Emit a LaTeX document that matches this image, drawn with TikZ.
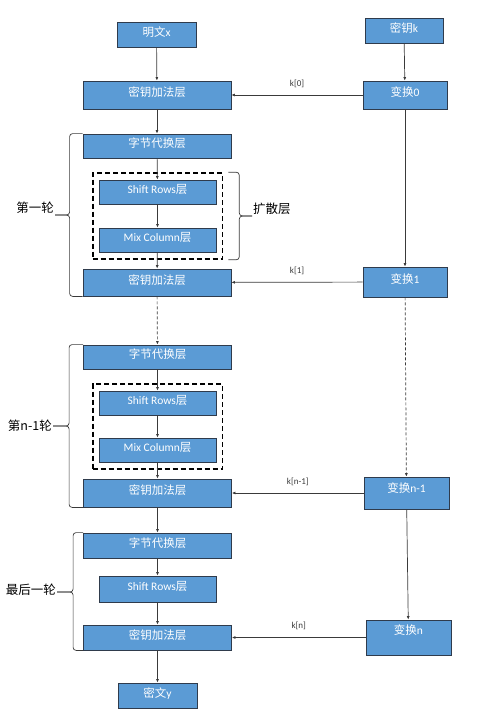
\documentclass[tikz,border=0pt]{standalone}
\usepackage{fontspec}
\setmainfont{Carlito}
\newfontfamily\cjk{Noto Sans CJK SC}
\usetikzlibrary{arrows.meta,fit}
\definecolor{boxblue}{HTML}{5B9BD5}
\definecolor{boxline}{HTML}{2F3B4C}
\definecolor{linegray}{HTML}{3A3A3A}
\tikzset{
    layer/.style={draw=boxline,line width=0.8pt,fill=boxblue,text=white,inner sep=0pt,
        minimum width=148pt,minimum height=27pt,
        font=\fontsize{11.5}{12}\selectfont,text height=9pt,text depth=6pt},
    sublayer/.style={layer,minimum width=117pt,minimum height=24pt},
    iobox/.style={layer,minimum width=79pt,minimum height=25pt},
    keybox/.style={layer,minimum width=84pt,minimum height=29pt},
    flow/.style={draw=linegray,line width=0.7pt,-{Latex[length=3.5pt,width=3pt]}},
    klabel/.style={midway,above=7pt,inner sep=0pt,text=linegray,
        font=\fontsize{9}{10}\selectfont},
    bracket/.style={draw=linegray,line width=0.7pt,rounded corners=3pt},
    roundlabel/.style={inner sep=1pt,font=\cjk\fontsize{12.5}{14}\selectfont},
    diffbox/.style={draw=black,line width=1.8pt,dash pattern=on 5pt off 3pt,
        inner xsep=6pt,inner ysep=6.5pt}
}
\begin{document}
\begin{tikzpicture}[x=1pt,y=-1pt]
    \useasboundingbox (0,0) rectangle (500,720);
    %% inputs
    \node[iobox] (px) at (156.5,34.5) {{\cjk 明文}x};
    \node[iobox,minimum width=78pt] (kk) at (404,30.5) {{\cjk 密钥}k};
    %% left column
    \node[layer,minimum height=28pt] (add0) at (157,95) {\cjk 密钥加法层};
    \node[layer,minimum height=24pt] (sub1) at (157,146) {\cjk 字节代换层};
    \node[sublayer] (sr1) at (157.5,192) {Shift Rows{\cjk 层}};
    \node[sublayer] (mc1) at (157.5,240) {Mix Column{\cjk 层}};
    \node[layer] (add1) at (157,282.5) {\cjk 密钥加法层};
    \node[layer,minimum height=24pt] (sub2) at (157.5,357) {\cjk 字节代换层};
    \node[sublayer] (sr2) at (157.5,403) {Shift Rows{\cjk 层}};
    \node[sublayer] (mc2) at (157.5,450) {Mix Column{\cjk 层}};
    \node[layer,minimum height=28pt] (add2) at (157.5,493) {\cjk 密钥加法层};
    \node[layer,minimum height=25pt] (sub3) at (157.5,545.5) {\cjk 字节代换层};
    \node[sublayer,minimum height=26pt] (sr3) at (157.5,589) {Shift Rows{\cjk 层}};
    \node[layer,minimum height=25pt] (add3) at (157.5,637.5) {\cjk 密钥加法层};
    \node[iobox] (cy) at (157.5,695.5) {{\cjk 密文}y};
    %% key schedule
    \node[keybox,minimum height=28pt] (t0) at (405,95) {{\cjk 变换}0};
    \node[keybox,minimum height=30pt] (t1) at (405,282) {{\cjk 变换}1};
    \node[keybox,minimum width=85pt,minimum height=32pt,text depth=10pt] (tn1) at (406.5,493) {{\cjk 变换}n-1};
    \node[keybox,minimum width=85pt,minimum height=35pt,text depth=15pt] (tn) at (408.5,637.5) {{\cjk 变换}n};
    %% diffusion boxes
    \node[diffbox,fit=(sr1)(mc1)] (diff1) {};
    \node[diffbox,fit=(sr2)(mc2)] (diff2) {};
    %% data path
    \draw[flow] (px) -- (add0);
    \draw[flow] (add0) -- (sub1);
    \draw[flow] (sub1) -- (sr1);
    \draw[flow] (sr1) -- (mc1);
    \draw[flow] (mc1) -- (add1);
    \draw[flow,dash pattern=on 3pt off 2pt] (add1) -- (sub2);
    \draw[flow] (sub2) -- (sr2);
    \draw[flow] (sr2) -- (mc2);
    \draw[flow] (mc2) -- (add2);
    \draw[flow] (add2) -- (sub3);
    \draw[flow] (sub3) -- (sr3);
    \draw[flow] (sr3) -- (add3);
    \draw[flow] (add3) -- (cy);
    %% key path
    \draw[flow] (kk) -- (t0);
    \draw[flow] (t0) -- (t1);
    \draw[flow,dash pattern=on 3pt off 2pt] (t1) -- (tn1);
    \draw[flow] (tn1) -- (tn);
    \draw[flow] (t0) -- (add0) node[klabel] {k[0]};
    \draw[flow] (t1) -- (add1) node[klabel] {k[1]};
    \draw[flow] (tn1) -- (add2) node[klabel] {k[n-1]};
    \draw[flow] (tn) -- (add3) node[klabel] {k[n]};
    %% round braces
    \coordinate (tip1) at (55,215);
    \coordinate (tip2) at (53,426);
    \coordinate (tip3) at (57,592);
    \coordinate (tip4) at (252,216);
    \draw[bracket] (sub1.north west) -- ++(-13,0) |- (tip1);
    \draw[bracket] (add1.south west) -- ++(-13,0) |- (tip1);
    \draw[bracket] (sub2.north west) -- ++(-14,0) |- (tip2);
    \draw[bracket] (add2.south west) -- ++(-14,0) |- (tip2);
    \draw[bracket] (sub3.north west) -- ++(-10,0) |- (tip3);
    \draw[bracket] (add3.south west) -- ++(-10,0) |- (tip3);
    \draw[bracket] ([xshift=5pt]diff1.north east) -- ++(11,0) |- (tip4);
    \draw[bracket] ([xshift=5pt]diff1.south east) -- ++(11,0) |- (tip4);
    \node[roundlabel,anchor=south east] (round1) at (tip1) {第一轮};
    \node[roundlabel,anchor=east] (round2) at (tip2) {第n-1轮};
    \node[roundlabel,anchor=east,yshift=2pt] (round3) at (tip3) {最后一轮};
    \node[roundlabel,anchor=south west] (spread) at (tip4) {扩散层};
\end{tikzpicture}
\end{document}
